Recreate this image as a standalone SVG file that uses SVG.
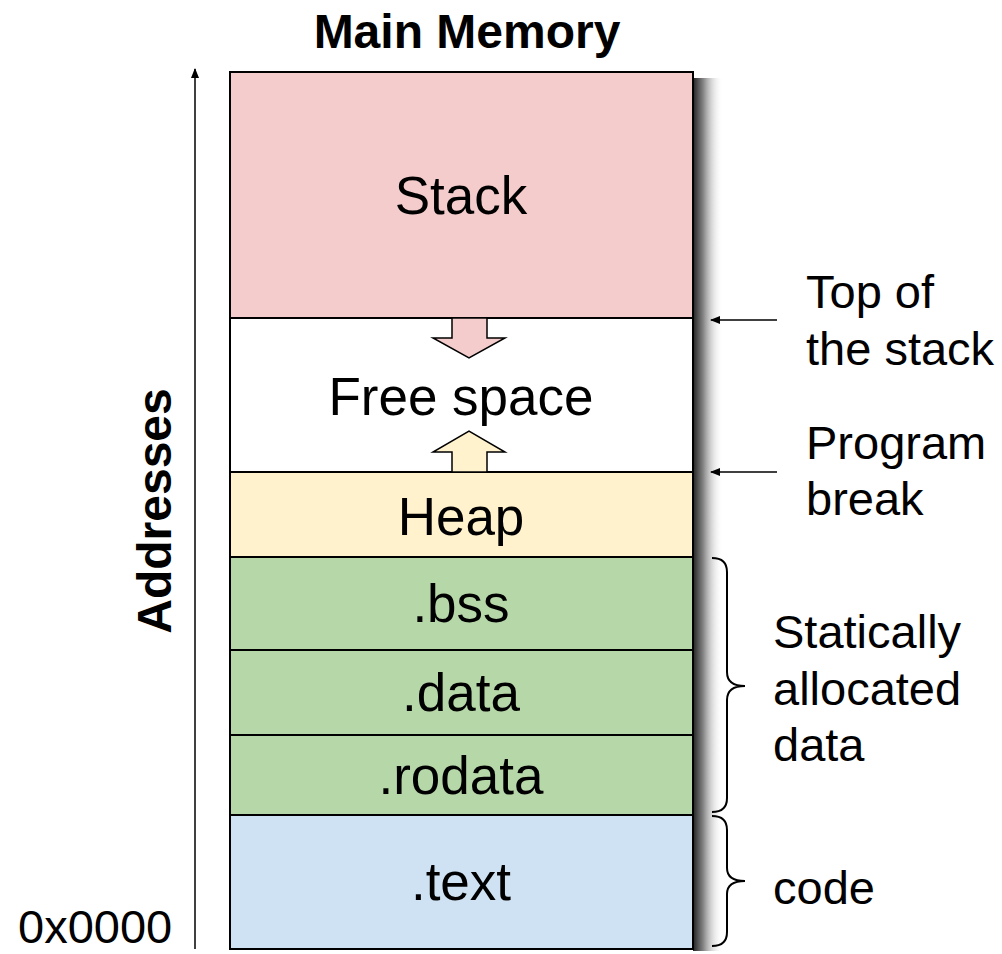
<svg xmlns="http://www.w3.org/2000/svg" width="1002" height="954" viewBox="0 0 1002 954">
<defs>
<linearGradient id="sh" x1="0" y1="0" x2="1" y2="0">
<stop offset="0" stop-color="#222"/>
<stop offset="0.35" stop-color="#888"/>
<stop offset="1" stop-color="#fff" stop-opacity="0"/>
</linearGradient>
<marker id="ah" viewBox="0 0 10 10" refX="9" refY="5" markerWidth="10" markerHeight="10" markerUnits="userSpaceOnUse" orient="auto">
<path d="M0,1 L10,5 L0,9 Z" fill="#000"/>
</marker>
</defs>
<style>
.seg{stroke:#000;stroke-width:2}
.t{font-family:"Liberation Sans",Arial,sans-serif;font-size:53px;fill:#000;text-anchor:middle}
.l{font-family:"Liberation Sans",Arial,sans-serif;font-size:47px;fill:#000}
.b{font-family:"Liberation Sans",Arial,sans-serif;font-size:48px;font-weight:bold;fill:#000}
.c{fill:none;stroke:#000;stroke-width:2}
</style>
<rect x="693" y="78" width="30" height="873" fill="url(#sh)"/>
<text class="b" x="467" y="48" text-anchor="middle">Main Memory</text>
<g id="stack"><rect class="seg" x="230" y="72" width="463" height="246" fill="#f4cccc"/><text class="t" x="461" y="214">Stack</text></g>
<g id="free"><rect class="seg" x="230" y="318" width="463" height="154" fill="#fff"/><text class="t" x="461" y="415">Free space</text></g>
<g id="heap"><rect class="seg" x="230" y="472" width="463" height="85" fill="#fff2cc"/><text class="t" x="461" y="535">Heap</text></g>
<g id="bss"><rect class="seg" x="230" y="557" width="463" height="93" fill="#b6d7a8"/><text class="t" x="461" y="622">.bss</text></g>
<g id="data"><rect class="seg" x="230" y="650" width="463" height="85" fill="#b6d7a8"/><text class="t" x="461" y="711">.data</text></g>
<g id="rodata"><rect class="seg" x="230" y="735" width="463" height="80" fill="#b6d7a8"/><text class="t" x="461" y="794">.rodata</text></g>
<g id="text"><rect class="seg" x="230" y="815" width="463" height="134" fill="#cfe2f3"/><text class="t" x="461" y="900">.text</text></g>
<g id="arrow-down"><path d="M452,318 L487,318 L487,338 L505,338 L469,358 L433,338 L452,338 Z" fill="#f4cccc" stroke="#000" stroke-width="1.5"/></g>
<g id="arrow-up"><path d="M452,472 L487,472 L487,452 L505,452 L469,431 L433,452 L452,452 Z" fill="#fff2cc" stroke="#000" stroke-width="1.5"/></g>
<g id="connectors">
<line x1="195" y1="949" x2="195" y2="69" stroke="#000" stroke-width="1.5" marker-end="url(#ah)"/>
<line x1="777" y1="320" x2="711" y2="320" stroke="#000" stroke-width="1.5" marker-end="url(#ah)"/>
<line x1="777" y1="472" x2="711" y2="472" stroke="#000" stroke-width="1.5" marker-end="url(#ah)"/>
<path class="c" d="M712,558 Q727,558 727,572 L727,672 Q727,686 745,686 Q727,686 727,700 L727,798 Q727,812 712,812"/>
<path class="c" d="M712,816 Q727,816 727,830 L727,868 Q727,881 745,881 Q727,881 727,894 L727,932 Q727,946 712,946"/>
</g>
<g id="labels">
<text class="b" transform="translate(171,511) rotate(-90)" text-anchor="middle">Addresses</text>
<text class="l" x="18" y="943" font-size="46">0x0000</text>
<text class="l" x="806" y="308">Top of</text>
<text class="l" x="806" y="365">the stack</text>
<text class="l" x="806" y="459">Program</text>
<text class="l" x="806" y="515">break</text>
<text class="l" x="773" y="648">Statically</text>
<text class="l" x="773" y="705">allocated</text>
<text class="l" x="773" y="761">data</text>
<text class="l" x="773" y="904">code</text>
</g>
</svg>
